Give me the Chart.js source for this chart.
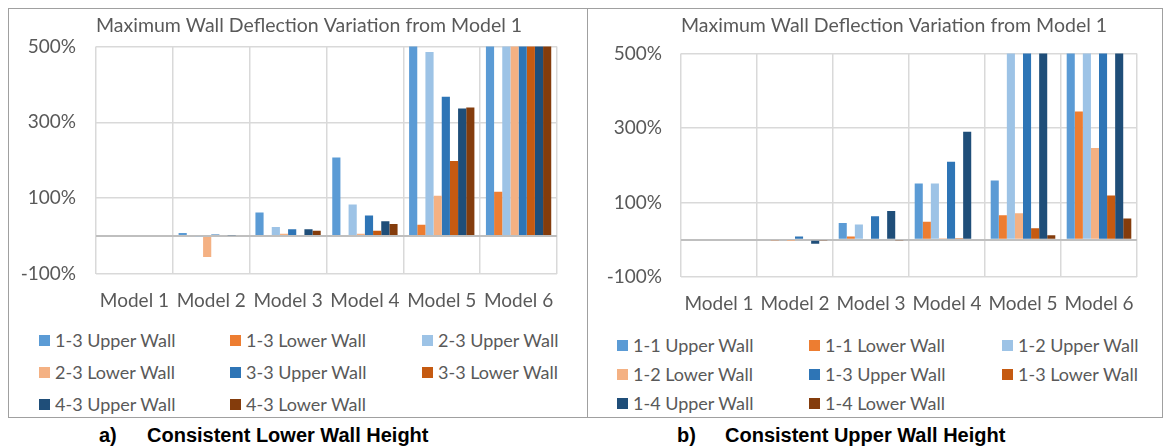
<!DOCTYPE html>
<html>
<head>
<meta charset="utf-8">
<script src="https://cdn.jsdelivr.net/npm/chart.js@4.4.1/dist/chart.umd.min.js"></script>
<style>
  body { margin: 0; background: #fff; width: 1165px; height: 446px; position: relative; overflow: hidden; font-family: Lato, sans-serif; }
  .panel { position: absolute; top: 8px; height: 410px; border: 1px solid #a0a0a0; box-sizing: border-box; }
  .box { position: absolute; }
  .legend { position: absolute; font-family: Lato, sans-serif; font-size: 18px; color: #595959; }
  .legend div { position: absolute; white-space: nowrap; line-height: 20px; }
  .legend span { display: inline-block; width: 11px; height: 11px; margin-right: 5px; vertical-align: 1px; }
  .cap { position: absolute; top: 424px; font-family: "Liberation Sans", Arial, sans-serif; font-weight: bold; font-size: 20px; line-height: 23px; color: #000; white-space: nowrap; }
</style>
</head>
<body>
<div class="panel" style="left:8px; width:580px;"></div>
<div class="panel" style="left:587px; width:576px;"></div>
<div class="box" style="left:9px; top:9px; width:577px; height:305px;"><canvas id="chartA"></canvas></div>
<div class="box" style="left:588px; top:9px; width:574px; height:305px;"><canvas id="chartB"></canvas></div>
<div class="legend" id="legendA"></div>
<div class="legend" id="legendB"></div>
<div class="cap" style="left:99px;">a)</div>
<div class="cap" style="left:147px;">Consistent Lower Wall Height</div>
<div class="cap" style="left:677px;">b)</div>
<div class="cap" style="left:725px;">Consistent Upper Wall Height</div>
<script>
// data
var models = ["Model 1", "Model 2", "Model 3", "Model 4", "Model 5", "Model 6"];
var colors = ['#5B9BD5', '#ED7D31', '#9DC3E6', '#F4B183', '#2E75B6', '#C55A11', '#1F4E79', '#843C0C'];
var title = "Maximum Wall Deflection Variation from Model 1";
var yMin = -100, yMax = 500, yStep = 200;

// a) consistent lower wall height (values above 500 are cut off by the axis)
var namesA = ["1-3 Upper Wall", "1-3 Lower Wall", "2-3 Upper Wall", "2-3 Lower Wall",
              "3-3 Upper Wall", "3-3 Lower Wall", "4-3 Upper Wall", "4-3 Lower Wall"];
var a13Upper = [0, 8, 62, 207, 520, 600];
var a13Lower = [0, 0, 0, 3, 30, 117];
var a23Upper = [0, -2, 24, 83, 485, 600];
var a23Lower = [0, -55, 6, 6, 106, 600];
var a33Upper = [0, 4, 18, 54, 367, 600];
var a33Lower = [0, 0, 0, 14, 198, 600];
var a43Upper = [0, 2, 18, 39, 336, 600];
var a43Lower = [0, 0, 14, 32, 339, 600];

// b) consistent upper wall height
var namesB = ["1-1 Upper Wall", "1-1 Lower Wall", "1-2 Upper Wall", "1-2 Lower Wall",
              "1-3 Upper Wall", "1-3 Lower Wall", "1-4 Upper Wall", "1-4 Lower Wall"];
var b11Upper = [0, 0, 45, 151, 159, 600];
var b11Lower = [0, -2, 9, 48, 66, 344];
var b12Upper = [0, 0, 41, 151, 600, 600];
var b12Lower = [0, -1, 0, 4, 71, 246];
var b13Upper = [0, 9, 63, 209, 600, 600];
var b13Lower = [0, 0, 0, 4, 31, 119];
var b14Upper = [0, -11, 77, 290, 600, 600];
var b14Lower = [0, -2, -2, 0, 12, 57];

var valuesA = [a13Upper, a13Lower, a23Upper, a23Lower, a33Upper, a33Lower, a43Upper, a43Lower];
var valuesB = [b11Upper, b11Lower, b12Upper, b12Lower, b13Upper, b13Lower, b14Upper, b14Lower];

Chart.defaults.font.family = 'Lato, sans-serif';
Chart.defaults.color = '#595959';

function makeChart(id, names, values, lay) {
  var ctx = document.getElementById(id).getContext('2d');
  return new Chart(ctx, {
    type: 'bar',
    data: {
      labels: models,
      datasets: names.map(function (n, i) {
        return { label: n, data: values[i], backgroundColor: colors[i], borderWidth: 0,
                 categoryPercentage: 0.85, barPercentage: 1.0 };
      })
    },
    options: {
      responsive: true,
      maintainAspectRatio: false,
      animation: false,
      layout: { padding: { left: 0, right: lay.right, top: 0, bottom: 0 } },
      plugins: {
        legend: { display: false },
        tooltip: { enabled: false },
        title: {
          display: true, text: title, align: 'start', fullSize: false,
          color: '#595959', font: { size: 19.5, weight: 'normal' },
          padding: { top: lay.titleTop, bottom: lay.titleBottom }
        }
      },
      scales: {
        x: {
          grid: { color: '#d9d9d9', lineWidth: 1.5, drawTicks: false },
          border: { display: false },
          ticks: { font: { size: 19 }, color: '#595959', padding: 15, maxRotation: 0 },
          afterFit: function (s) { s.height = lay.xHeight; }
        },
        y: {
          min: yMin, max: yMax,
          grid: {
            drawTicks: false,
            color: function (c) { return c.tick && c.tick.value === 0 ? '#bfbfbf' : '#d9d9d9'; },
            lineWidth: function (c) { return c.tick && c.tick.value === 0 ? 2 : 1.5; }
          },
          border: { display: false },
          ticks: {
            stepSize: yStep, font: { size: 19 }, color: '#595959', padding: lay.yPad,
            callback: function (v) { return v === 0 ? '' : v + '%'; }
          },
          afterBuildTicks: function (s) {
            s.ticks.push({ value: 0 });
            s.ticks.sort(function (p, q) { return p.value - q.value; });
          },
          afterFit: function (s) { s.width = lay.yWidth; }
        }
      }
    }
  });
}

makeChart('chartA', namesA, valuesA, { right: 29, titleTop: 5, titleBottom: 9, xHeight: 40, yPad: 20, yWidth: 87 });
makeChart('chartB', namesB, valuesB, { right: 25, titleTop: 5, titleBottom: 16, xHeight: 37, yPad: 19, yWidth: 93 });

function makeLegend(id, names, xs, ys) {
  var el = document.getElementById(id);
  names.forEach(function (n, i) {
    var d = document.createElement('div');
    d.style.left = xs[i % 3] + 'px';
    d.style.top = (ys[Math.floor(i / 3)] - 10) + 'px';
    d.innerHTML = '<span style="background:' + colors[i] + '"></span>' + n;
    el.appendChild(d);
  });
}
makeLegend('legendA', namesA, [39, 230, 422], [340, 372, 404]);
makeLegend('legendB', namesB, [617, 809, 1002], [345, 374, 403]);
</script>
</body>
</html>
